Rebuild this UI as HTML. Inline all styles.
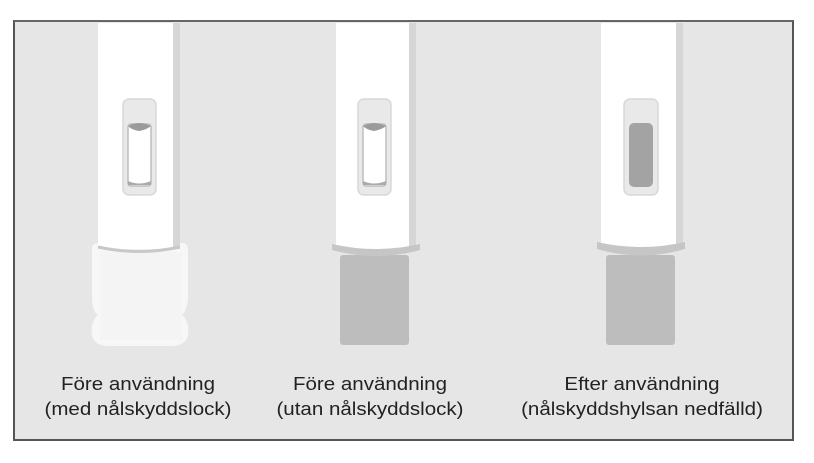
<!DOCTYPE html>
<html><head><meta charset="utf-8"><style>
body{margin:0;width:814px;height:463px;background:#fff;position:relative;overflow:hidden;font-family:"Liberation Sans",Arial,sans-serif}
.frame{position:absolute;left:13px;top:20px;width:777px;height:417px;background:#e6e6e6;border:2px solid #555;border-top-color:#666}
.lbl{position:absolute;top:372px;width:300px;text-align:center;font-size:18px;line-height:25px;color:#222;transform:scaleX(1.14)}
</style></head><body>
<div class="frame"></div>
<svg style="position:absolute;left:0;top:0" width="814" height="463">
<g>
<path d="M92 248 Q92 243 100 243 L182 243 Q188 243 188 250 L188 300 Q186 312 182 315 Q190 322 188 335 Q186 346 170 346 L110 346 Q94 346 92 335 Q90 322 98 315 Q93 312 92 300 Z" fill="#f7f7f7"/>
<path d="M100 252 L182 252 L182 340 L100 340 Z" fill="#f2f2f2" opacity="0.6"/>
<rect x="98" y="23" width="82" height="226" fill="#fff"/>
<rect x="173" y="23" width="7" height="226" fill="#d6d6d6"/>
<path d="M98 247 Q139 256 180 247" stroke="#c8c8c8" stroke-width="3" fill="none"/>
<rect x="123" y="99" width="33" height="96" rx="6" fill="#e9e9e9" stroke="#d8d8d8" stroke-width="1.5"/>
<rect x="128" y="124" width="23" height="62" rx="3" fill="#fff" stroke="#bdbdbd" stroke-width="1.5"/>
<path d="M128 126 Q139 120 151 126 Q146 130 139 131 Q132 130 128 126 Z" fill="#9a9a9a"/>
<path d="M128 181 Q139 186 151 181 L151 185 L128 185 Z" fill="#aaa"/>
</g>
<g>
<rect x="340" y="255" width="69" height="90" rx="3" fill="#bdbdbd"/>
<rect x="336" y="23" width="80" height="226" fill="#fff"/>
<rect x="409" y="23" width="7" height="226" fill="#d6d6d6"/>
<path d="M332 244 Q376 254 420 244 L420 250 Q376 262 332 250 Z" fill="#c6c6c6"/>
<rect x="358" y="99" width="33" height="96" rx="6" fill="#e9e9e9" stroke="#d8d8d8" stroke-width="1.5"/>
<rect x="363" y="124" width="23" height="62" rx="3" fill="#fff" stroke="#bdbdbd" stroke-width="1.5"/>
<path d="M363 126 Q374 120 386 126 Q381 130 374 131 Q367 130 363 126 Z" fill="#9a9a9a"/>
<path d="M363 181 Q374 186 386 181 L386 185 L363 185 Z" fill="#aaa"/>
</g>
<g>
<rect x="606" y="255" width="69" height="90" rx="3" fill="#bdbdbd"/>
<rect x="601" y="23" width="82" height="226" fill="#fff"/>
<rect x="676" y="23" width="7" height="226" fill="#d6d6d6"/>
<path d="M597 242 Q641 252 685 242 L685 249 Q641 262 597 249 Z" fill="#c6c6c6"/>
<rect x="624" y="99" width="34" height="96" rx="6" fill="#e9e9e9" stroke="#d8d8d8" stroke-width="1.5"/>
<rect x="629" y="123" width="24" height="64" rx="5" fill="#a3a3a3"/>
</g>
</svg>
<div class="lbl" style="left:-12px">Före användning<br>(med nålskyddslock)</div>
<div class="lbl" style="left:220px">Före användning<br>(utan nålskyddslock)</div>
<div class="lbl" style="left:492px">Efter användning<br>(nålskyddshylsan nedfälld)</div>
</body></html>
